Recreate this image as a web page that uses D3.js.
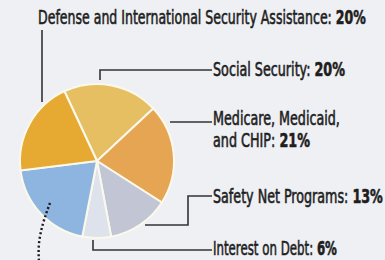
<!DOCTYPE html>
<html>
<head>
<meta charset="utf-8">
<script src="https://cdn.jsdelivr.net/npm/d3@7"></script>
<style>
  html, body { margin: 0; padding: 0; background: #eef0f3; }
  svg { display: block; }
  text { font-family: "Liberation Sans Narrow", "DejaVu Sans Condensed", "Roboto", sans-serif; fill: #1e1e1e; stroke: #1e1e1e; stroke-width: 0.6; }
</style>
</head>
<body>
<div id="chart"></div>
<script>
// Budget shares, clockwise starting from the top
var categories = ["Social Security", "Medicare, Medicaid, and CHIP", "Safety Net Programs",
                  "Interest on Debt", "Other", "Defense and International Security Assistance"];
var shares = [20, 21, 13, 6, 20, 20];
var colors = ["#e6bf62", "#e6a553", "#c2c6d4", "#dde2ec", "#8db5df", "#e6aa33"];

// label texts: [plain part, bold part] per line
var labelLines = [
    [["Social Security: ", "20%"]],
    [["Medicare, Medicaid,", ""], ["and CHIP: ", "21%"]],
    [["Safety Net Programs: ", "13%"]],
    [["Interest on Debt: ", "6%"]],
    [],
    [["Defense and International Security Assistance: ", "20%"]]
];

var width = 385, height = 260;
var cx = 97, cy = 161, radius = 77;

var svg = d3.select("#chart").append("svg")
    .attr("width", width)
    .attr("height", height);

var pie = d3.pie()
    .sort(null)
    .value(function (d) { return d; })
    .startAngle(-25 * Math.PI / 180)
    .endAngle(335 * Math.PI / 180);

var arc = d3.arc()
    .innerRadius(0)
    .outerRadius(radius);

var g = svg.append("g")
    .attr("transform", "translate(" + cx + "," + cy + ")");

g.selectAll("path")
    .data(pie(shares))
    .enter()
    .append("path")
    .attr("d", arc)
    .attr("fill", function (d, i) { return colors[i]; })
    .attr("stroke", "#fbf8ec")
    .attr("stroke-width", 2);

// leader lines (annotation layout)
var lineColor = "#333333";
var leaders = [
    [[100, 80], [100, 70], [212, 70]],
    [[170, 122], [212, 122]],
    [[145, 225], [188, 225], [188, 196], [212, 196]],
    [[93, 240], [93, 250], [212, 250]],
    [],
    [[42, 30], [42, 102]]
];

svg.selectAll("path.leader")
    .data(leaders.filter(function (d) { return d.length; }))
    .enter()
    .append("path")
    .attr("class", "leader")
    .attr("d", d3.line())
    .attr("fill", "none")
    .attr("stroke", lineColor)
    .attr("stroke-width", 1.6);

// dotted curve for the unlabeled blue slice
svg.append("path")
    .attr("d", d3.line().curve(d3.curveBasis)([[50, 203], [43, 222], [38, 244], [39, 262]]))
    .attr("fill", "none")
    .attr("stroke", "#1a1a1a")
    .attr("stroke-width", 2.4)
    .attr("stroke-dasharray", "2,2.4");

// label layout: x, baseline y, target width per line
var labelPos = [
    [[213, 76, 132]],
    [[213, 125, 127], [213, 147, 97]],
    [[213, 203, 170]],
    [[213, 255, 124]],
    [],
    [[38, 24, 328]]
];

labelLines.forEach(function (lines, i) {
    lines.forEach(function (ln, j) {
        var p = labelPos[i][j];
        var t = svg.append("text")
            .attr("font-size", 20);
        t.append("tspan").text(ln[0]);
        if (ln[1]) t.append("tspan").attr("font-weight", "bold").text(ln[1]);
        var w = t.node().getComputedTextLength();
        t.attr("transform", "translate(" + p[0] + "," + p[1] + ") scale(" + (p[2] / w) + ",1)");
    });
});
</script>
</body>
</html>
